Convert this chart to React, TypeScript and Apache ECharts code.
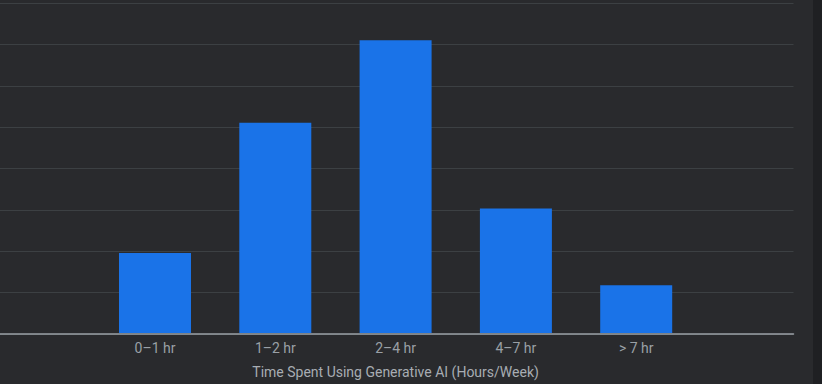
import React, { useEffect, useRef } from "react";
import * as echarts from "echarts";

const categories = ["0–1 hr", "1–2 hr", "2–4 hr", "4–7 hr", "> 7 hr"];
const values = [9.7, 25.5, 35.5, 15.1, 5.8];
const axisTitle = "Time Spent Using Generative AI (Hours/Week)";
const yMax = 40;
const yStep = 5;

export default function App() {
  const ref = useRef<HTMLDivElement>(null);
  useEffect(() => {
    if (!ref.current) return;
    const chart = echarts.init(ref.current, undefined, { renderer: "svg" });
    const font = "Roboto, 'Noto Sans', sans-serif";
    chart.setOption({
      animation: false,
      backgroundColor: "#292a2d",
      grid: [
        { left: 0, right: 28.5, top: 3, bottom: 50 },
        { left: 94.85, right: 125.65, top: 3, bottom: 50 },
      ],
      xAxis: [
        {
          gridIndex: 0,
          type: "value",
          min: 0,
          max: 1,
          axisLine: { show: true, onZero: false, lineStyle: { color: "#9aa0a6", width: 1.5 } },
          axisTick: { show: false },
          axisLabel: { show: false },
          splitLine: { show: false },
        },
        {
          gridIndex: 1,
          type: "category",
          data: categories,
          axisLine: { show: false },
          axisTick: { show: false },
          axisLabel: { color: "#9aa0a6", fontSize: 14, fontFamily: font, margin: 8 },
          name: axisTitle,
          nameLocation: "middle",
          nameGap: 32,
          nameTextStyle: { color: "#a8adb3", fontSize: 14, fontFamily: font },
        },
      ],
      yAxis: [
        {
          gridIndex: 0,
          type: "value",
          min: 0,
          max: yMax,
          interval: yStep,
          axisLine: { show: false },
          axisTick: { show: false },
          axisLabel: { show: false },
          splitLine: { show: true, lineStyle: { color: "#3c4043", width: 1 } },
        },
        {
          gridIndex: 1,
          type: "value",
          min: 0,
          max: yMax,
          interval: yStep,
          show: false,
        },
      ],
      series: [
        {
          type: "bar",
          xAxisIndex: 1,
          yAxisIndex: 1,
          data: values,
          barWidth: 72,
          itemStyle: { color: "#1a73e8" },
        },
      ],
    });
    return () => chart.dispose();
  }, []);
  return (
    <div style={{ position: "fixed", left: 0, top: 0, width: 822, height: 384, background: "#292a2d" }}>
      <div ref={ref} style={{ position: "absolute", left: 0, top: 0, width: 822, height: 384 }} />
      <div style={{ position: "absolute", left: 813, top: 0, width: 9, height: 384, background: "#1f2023" }} />
    </div>
  );
}
